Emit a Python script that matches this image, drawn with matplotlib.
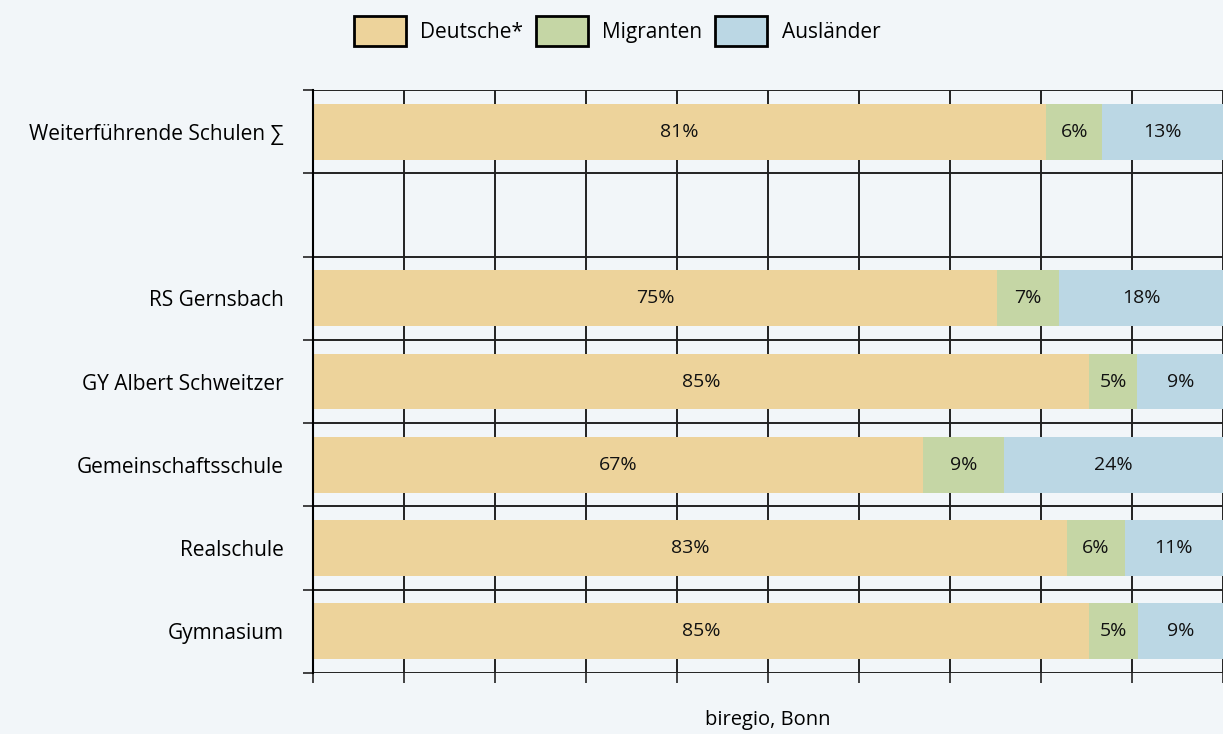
import matplotlib
matplotlib.use("Agg")
import matplotlib.pyplot as plt
import numpy as np

plt.rcParams["font.family"] = ["Open Sans", "DejaVu Sans"]

BG = "#F2F6F9"

# Kategorien (leere Zeile als Abstand)
categories = ["Weiterführende Schulen ∑", "", "RS Gernsbach", "GY Albert Schweitzer",
              "Gemeinschaftsschule", "Realschule", "Gymnasium"]
series_names = ["Deutsche*", "Migranten", "Ausländer"]
colors = ["#EDD39B", "#C5D6A5", "#BBD7E4"]

deutsche = [80.6, np.nan, 75.2, 85.3, 67.0, 82.9, 85.3]
migranten = [6.1, np.nan, 6.8, 5.3, 8.9, 6.3, 5.4]
auslaender = [13.3, np.nan, 18.0, 9.4, 24.1, 10.8, 9.3]

fig = plt.figure(figsize=(12.23, 7.34), dpi=100, facecolor=BG)
ax = fig.add_axes([313 / 1223, 1 - 673 / 734, 910 / 1223, 583 / 734])
ax.set_facecolor(BG)

y = np.arange(len(categories))
left = np.zeros(len(categories))
for name, vals, col in zip(series_names, [deutsche, migranten, auslaender], colors):
    vals = np.array(vals, dtype=float)
    v = np.nan_to_num(vals)
    ax.barh(y, v, left=left, height=0.67, color=col, label=name, zorder=3)
    for yi, (l, w, raw) in enumerate(zip(left, v, vals)):
        if np.isnan(raw):
            continue
        ax.text(l + w / 2, yi, f"{round(raw):d}%", ha="center", va="center",
                fontsize=14, color="#111111", zorder=4)
    left = left + v

ax.set_xlim(0, 100)
ax.set_ylim(len(categories) - 0.5, -0.5)
ax.set_xticks(np.arange(0, 101, 10))
ax.set_xticklabels([])
ax.set_yticks(y)
ax.set_yticklabels(categories, fontsize=15)
ax.set_yticks(np.arange(-0.5, len(categories), 1), minor=True)
ax.tick_params(axis="y", which="major", length=0, pad=21)
ax.tick_params(axis="y", which="minor", length=7, width=1.3, color="#333333")
ax.tick_params(axis="x", which="major", length=7, width=1.3, color="#333333")
ax.grid(True, axis="x", which="major", color="#222222", linewidth=1.4, zorder=0)
ax.grid(True, axis="y", which="minor", color="#222222", linewidth=1.4, zorder=0)
ax.set_axisbelow(True)
for s in ["top", "right", "bottom"]:
    ax.spines[s].set_visible(False)
ax.spines["left"].set_linewidth(1.5)
ax.spines["left"].set_zorder(5)

fig.text(768 / 1223, 1 - 720 / 734, "biregio, Bonn", ha="center", va="center", fontsize=14.5)

leg = fig.legend(loc="center", bbox_to_anchor=(617 / 1223, 1 - 31 / 734), ncol=3, frameon=False,
                 fontsize=15, handlelength=2.5, handleheight=1.8, columnspacing=0.6,
                 handletextpad=0.7)
for h in leg.legend_handles:
    h.set_edgecolor("black")
    h.set_linewidth(2)

fig.savefig("out.png", dpi=100, facecolor=BG)
